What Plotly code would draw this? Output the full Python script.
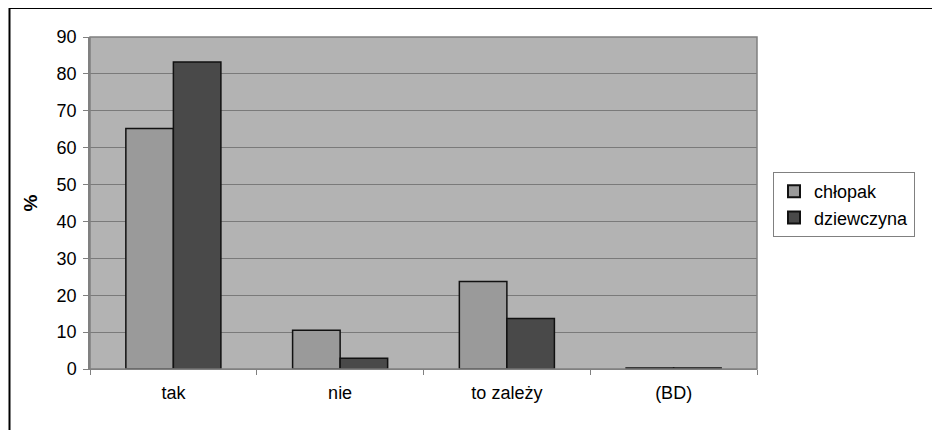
import plotly.graph_objects as go

categories = ["tak", "nie", "to zależy", "(BD)"]
chlopak = [65.2, 10.5, 23.7, 0.3]
dziewczyna = [83.2, 2.9, 13.7, 0.3]
series_names = ["chłopak", "dziewczyna"]
y_ticks = [0, 10, 20, 30, 40, 50, 60, 70, 80, 90]

OFF = 8  # browser body margin
W, H = 940, 430
L, R, T, B = 90 - OFF, 757 - OFF, 37 - OFF, 369 - OFF

fig = go.Figure()
fig.add_trace(go.Bar(x=categories, y=chlopak, name=series_names[0],
                     marker=dict(color="#9a9a9a", line=dict(color="#111111", width=1.5))))
fig.add_trace(go.Bar(x=categories, y=dziewczyna, name=series_names[1],
                     marker=dict(color="#494949", line=dict(color="#111111", width=1.5))))

pw, ph = R - L, B - T
def px(x):
    return (x - OFF - L) / pw
def py(y):
    return (B - (y - OFF)) / ph

# outer chart border (left and top visible)
fig.add_shape(type="rect", xref="paper", yref="paper",
              x0=px(OFF + 1.5), x1=px(990), y0=py(8), y1=py(480),
              line=dict(color="#000000", width=2), layer="below")
# plot area border
fig.add_shape(type="rect", xref="paper", yref="paper",
              x0=0, x1=1, y0=0, y1=1,
              line=dict(color="#808080", width=1.5))

fig.update_layout(
    width=W, height=H,
    margin=dict(l=L, r=W - R, t=T, b=H - B),
    paper_bgcolor="white",
    plot_bgcolor="#b3b3b3",
    barmode="group",
    bargap=0.43,
    bargroupgap=0,
    font=dict(family="Liberation Sans, Arial, sans-serif", size=18, color="#000000"),
    showlegend=True,
    legend=dict(x=px(773), y=py(172), xanchor="left", yanchor="top",
                bordercolor="#808080", borderwidth=1, bgcolor="white",
                font=dict(size=18), itemsizing="constant",
                tracegroupgap=4),
    yaxis=dict(range=[0, 90], tickvals=y_ticks, showgrid=True, gridcolor="#7a7a7a",
               gridwidth=1, showline=True, linecolor="#808080", linewidth=1.5,
               ticks="outside", ticklen=5, tickcolor="#808080", zeroline=False,
               ticklabelstandoff=3,
               title=dict(text="<b>%</b>", standoff=14, font=dict(size=19))),
    xaxis=dict(showline=True, linecolor="#808080", ticks="outside", ticklen=5,
               tickcolor="#808080", tickson="boundaries", showgrid=False,
               ticklabelstandoff=7),
)

fig.write_html("out.html")
